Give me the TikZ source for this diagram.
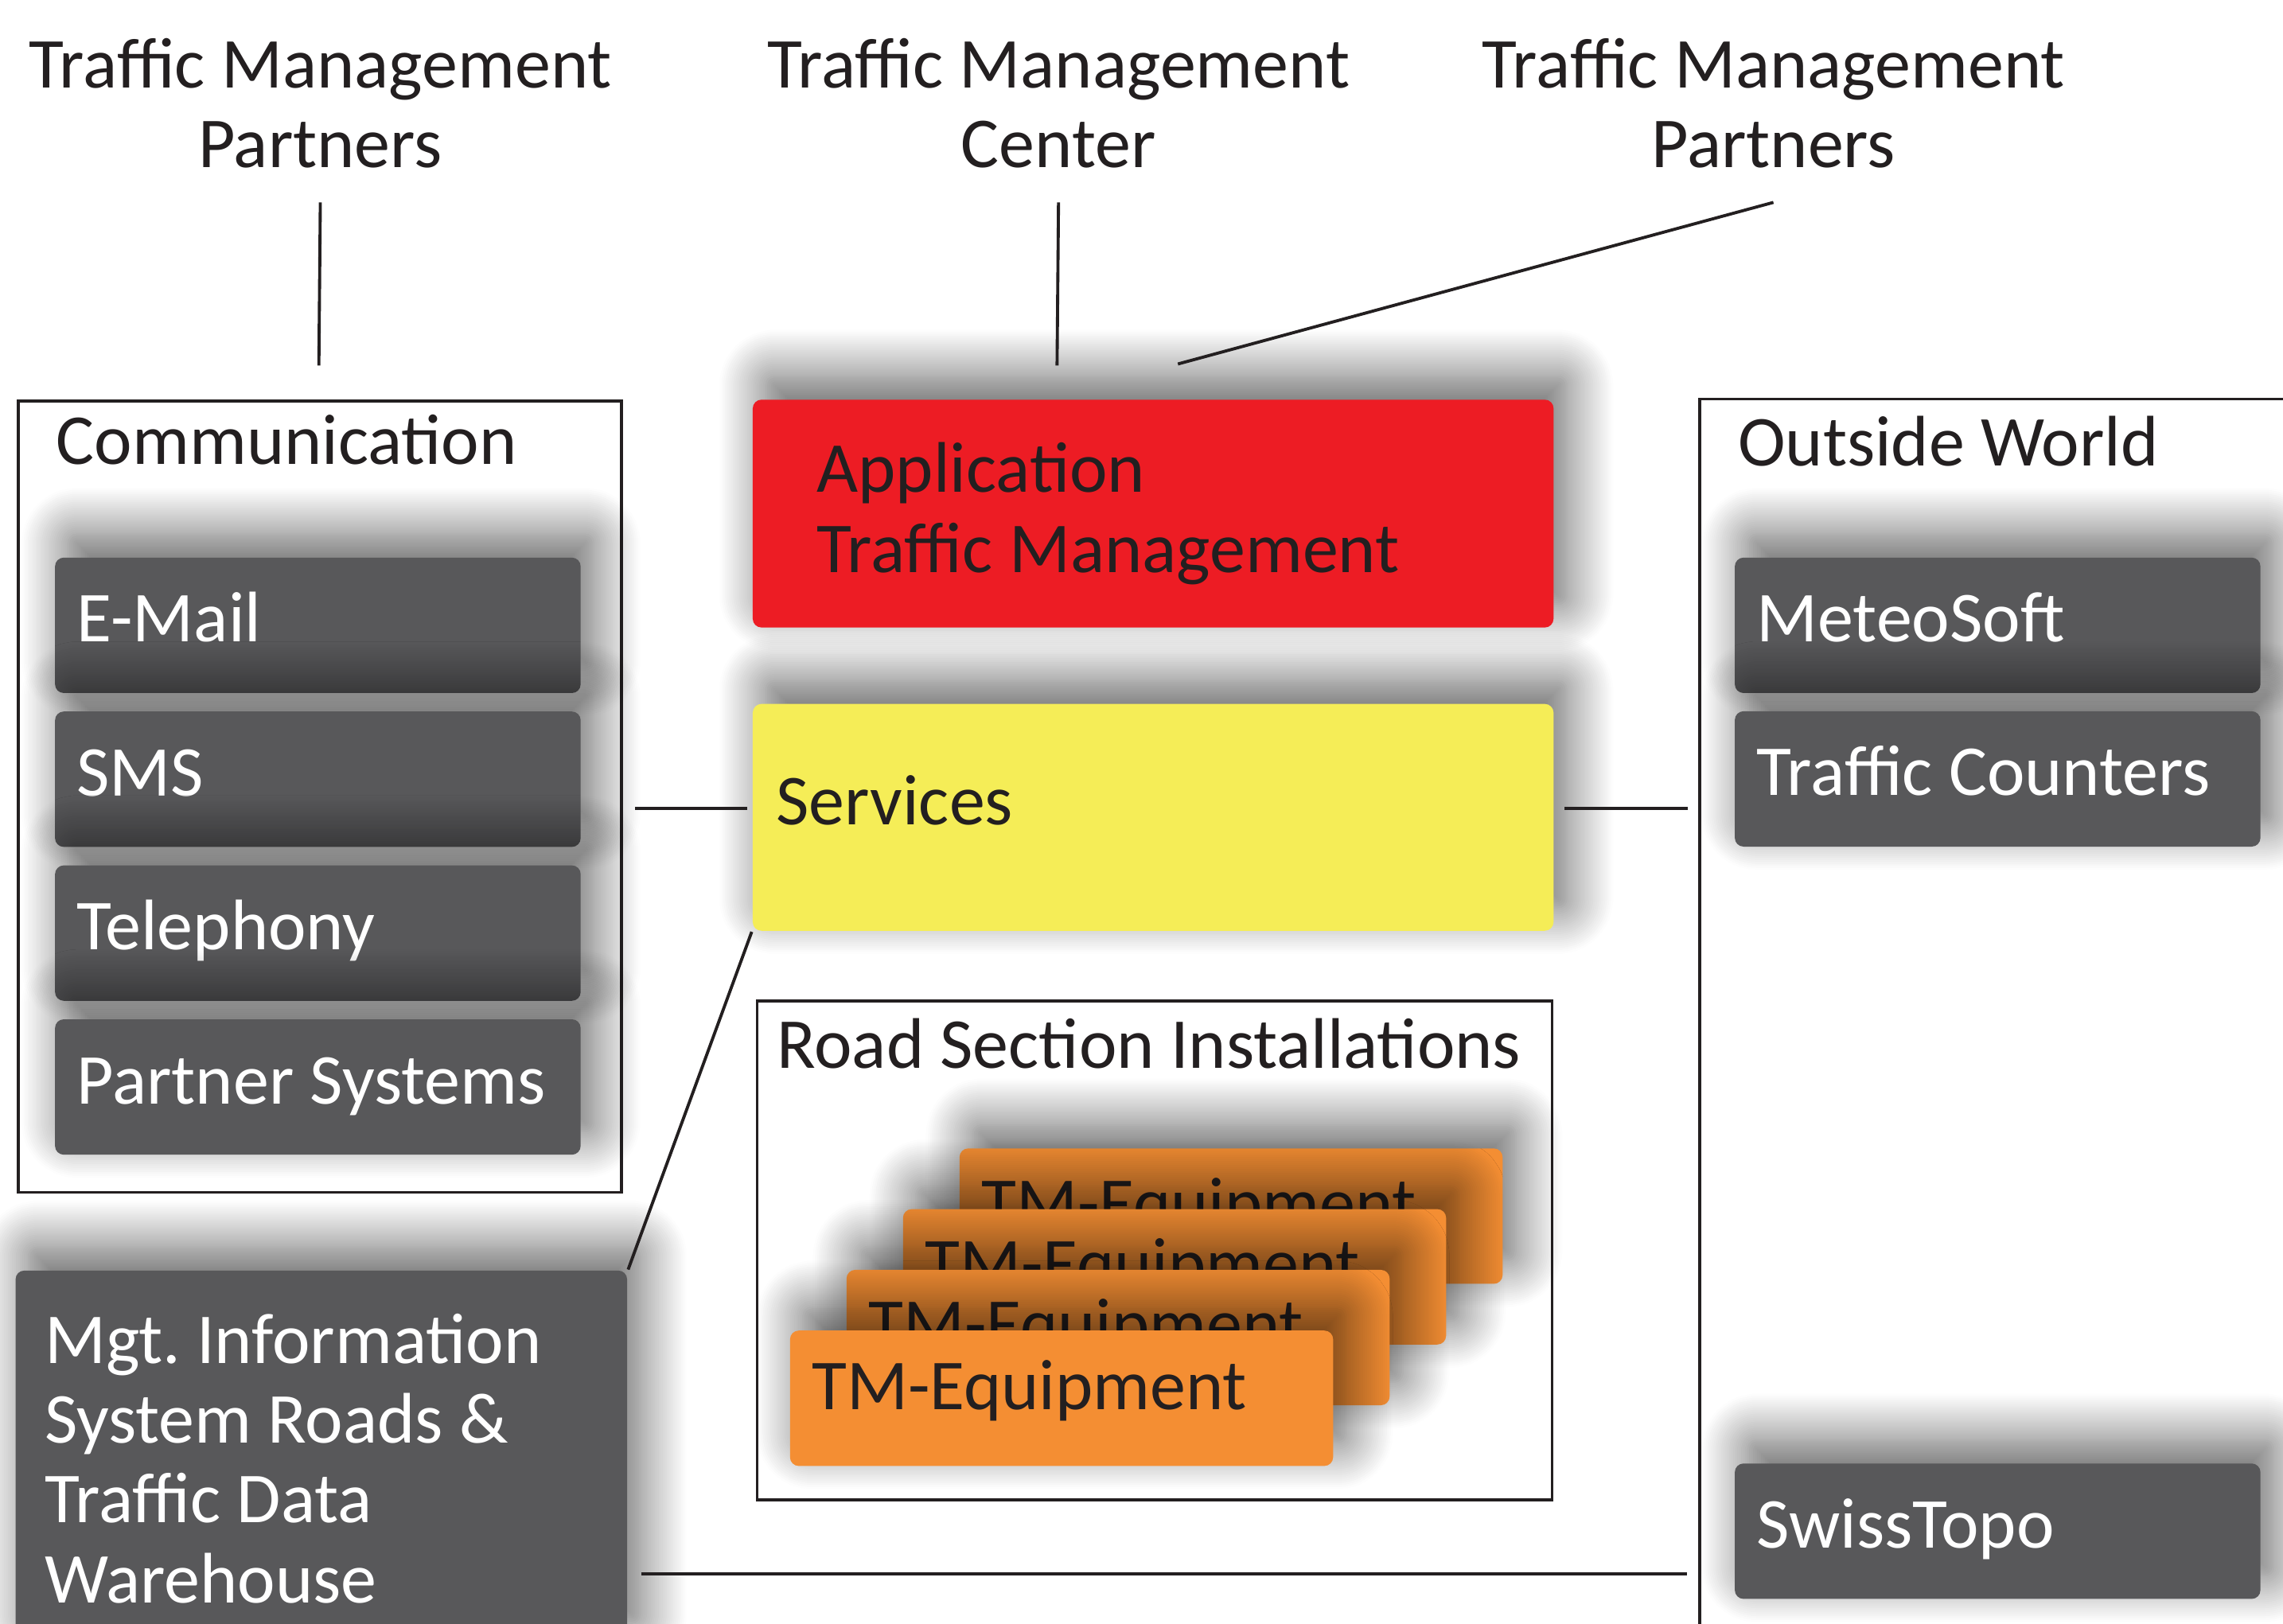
\documentclass[tikz,border=0pt]{standalone}
\usepackage{fontspec}
\setmainfont{Carlito}
\usetikzlibrary{shadows.blur}
\definecolor{boxgrey}{HTML}{58585A}
\definecolor{appred}{HTML}{ED1C24}
\definecolor{svcyellow}{HTML}{F5ED57}
\definecolor{tmorange}{HTML}{F48E33}
\definecolor{ink}{HTML}{231F20}
\newcommand{\fs}{\fontsize{14pt}{15.6pt}\selectfont\hyphenpenalty=10000\frenchspacing}

\tikzset{
  frame/.style={draw=ink, line width=0.6pt, inner sep=0pt},
  link/.style={draw=ink, line width=0.6pt},
  soft/.style={blur shadow={shadow xshift=0.9mm, shadow yshift=1.6mm, shadow blur radius=3.2mm, shadow blur steps=24, shadow opacity=62}},
  box/.style={soft, rounded corners=0.6mm, inner ysep=0pt, align=flush left},
  cell/.style={box, minimum height=9.3mm, inner xsep=1.5mm, text width=33.1mm, text height=0.8em, text depth=0.15em},
  greycell/.style={cell, fill=boxgrey, text=white},
  tmcell/.style={cell, fill=tmorange, text=ink, text width=34.3mm, text height=0.65em, text depth=0.22em},
  heading/.style={align=center, inner xsep=0pt, inner ysep=2.3mm, text=ink},
  title/.style={anchor=base west, inner sep=0pt, text=ink},
}

\begin{document}
\begin{tikzpicture}[x=0.1mm, y=-0.1mm, font=\fs]
\useasboundingbox (0,0) rectangle (1568,1115);
\clip (0,0) rectangle (1568,1115);

% partners and center
\node[heading] (tmpl) at (220,70.7) {Traffic Management\\Partners};
\node[heading] (tmc) at (727,70.7) {Traffic Management\\Center};
\node[heading] (tmpr) at (1218,70.7) {Traffic Management\\Partners};

% frames
\node[frame, minimum width=41.45mm, minimum height=54.35mm] (comm) at (219.75,547.25) {};
\node[title] (commlbl) at ([shift={(2.65mm,-4.45mm)}]comm.north west) {Communication};
\node[frame, anchor=north west, minimum width=50mm, minimum height=95mm] (outw) at (1166.5,273) {};
\node[title] (outwlbl) at ([shift={(2.65mm,-4.7mm)}]outw.north west) {Outside World};
\node[frame, minimum width=54.6mm, minimum height=34.27mm] (road) at (793,858.65) {};
\node[title] (roadlbl) at ([shift={(1.4mm,-4.77mm)}]road.north west) {Road Section Installations};

% communication channels
\foreach \name/\txt [count=\i from 0] in {email/E-Mail, sms/SMS, tel/Telephony, psys/Partner Systems}
  \node[greycell] (\name) at (218.3,429.5+105.7*\i) {\txt};

% outside world
\node[greycell] (meteo) at (1372,429.5) {MeteoSoft};
\node[greycell] (tcount) at (1372,535) {Traffic Counters};
\node[greycell] (swiss) at (1372,1051.7) {SwissTopo};

% center
\node[box, fill=appred, text=ink, minimum height=15.65mm, inner xsep=4.4mm, text width=46.2mm] (app) at (792,352.75) {Application\\Traffic Management};
\node[box, fill=svcyellow, text=ink, minimum height=15.58mm, inner xsep=1.6mm, text width=51.8mm, text height=0.6em, text depth=0.3em] (svc) at (792,561.4) {Services};

% equipment stack, back to front
\foreach \i in {3,2,1,0}
  \node[tmcell] (tm\i) at (729.1+38.8*\i,960.4-41.7*\i) {TM-Equipment};

\node[box, fill=boxgrey, text=white, anchor=north west, minimum height=25.8mm, inner xsep=2mm, text width=38mm] (mis) at (10,872) {Mgt. Information\\System Roads \&\\Traffic Data\\Warehouse};

% links
\coordinate (pl) at (219,251);
\coordinate (pc) at (726,251);
\coordinate (pr) at (809,250);
\draw[link] (tmpl.south) -- (pl);
\draw[link] (tmc.south) -- (pc);
\draw[link] (tmpr.south) -- (pr);
\coordinate (s1) at ([yshift=0.6mm]svc.west);
\draw[link, shorten <=0.3mm, shorten >=0.8mm] (s1) -- (s1 -| comm.east);
\coordinate (s2) at ([yshift=0.6mm]svc.east);
\draw[link, shorten <=0.7mm, shorten >=0.75mm] (s2) -- (s2 -| outw.west);
\draw[link] (svc.south west) -- (mis.north east);
\coordinate (b1) at (0,1081);
\draw[link, shorten <=0.9mm, shorten >=0.8mm] (b1 -| mis.east) -- (b1 -| outw.west);
\end{tikzpicture}
\end{document}
